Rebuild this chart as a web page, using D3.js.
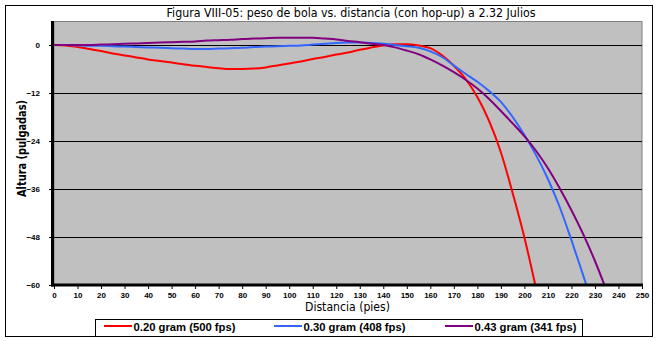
<!DOCTYPE html>
<html>
<head>
<meta charset="utf-8">
<script src="https://cdn.jsdelivr.net/npm/d3@7/dist/d3.min.js"></script>
<style>
  html, body { margin: 0; padding: 0; background: #fff; }
  svg { display: block; }
</style>
</head>
<body>
<svg id="chart" width="658" height="341"></svg>
<script>
const distances = [0,5,10,15,20,25,30,35,40,45,50,55,60,65,70,75,80,85,90,95,100,105,110,115,120,125,130,135,140,145,150,155,160,165,170,175,180,185,190,195,200,205,210,215,220,225,230,235];
const red020 = [0,-0.1,-0.5,-1.0,-1.5,-2.1,-2.6,-3.1,-3.6,-4.0,-4.4,-4.8,-5.2,-5.5,-5.8,-6.0,-6.0,-5.9,-5.6,-5.1,-4.6,-4.1,-3.5,-3.0,-2.4,-1.9,-1.2,-0.6,-0.1,0.2,0.2,-0.1,-0.8,-2.6,-5.2,-8.5,-13.0,-19.0,-26.8,-37.0,-48.1,-61.0];
const blue030 = [0,0,-0.1,-0.2,-0.2,-0.3,-0.4,-0.5,-0.6,-0.7,-0.8,-0.9,-1.0,-1.0,-0.9,-0.8,-0.7,-0.5,-0.4,-0.3,-0.2,-0.1,0.1,0.3,0.5,0.6,0.6,0.5,0.3,0.0,-0.3,-0.7,-1.6,-3.0,-5.1,-7.2,-9.2,-11.5,-14.2,-18.0,-22.5,-27.6,-33.5,-40.5,-48.8,-57.6,-66.5];
const purple043 = [0,0,0,0,0.1,0.2,0.3,0.4,0.5,0.6,0.7,0.8,0.9,1.1,1.2,1.3,1.5,1.6,1.7,1.8,1.8,1.8,1.8,1.6,1.4,1.0,0.7,0.3,0.0,-0.6,-1.4,-2.3,-3.6,-5.1,-6.8,-8.7,-10.9,-13.5,-16.5,-19.6,-22.8,-26.5,-30.8,-35.8,-41.3,-47.3,-54.0,-61.5];
const seriesNames = ["0.20 gram (500 fps)", "0.30 gram (408 fps)", "0.43 gram (341 fps)"];
const seriesColors = ["#ff0000", "#3366ff", "#800080"];
const xTicks = [0,10,20,30,40,50,60,70,80,90,100,110,120,130,140,150,160,170,180,190,200,210,220,230,240,250];
const yTicks = [0,-12,-24,-36,-48,-60];
const titleText = "Figura VIII-05: peso de bola vs. distancia (con hop-up) a 2.32 Julios";
const xTitle = "Distancia (pies)";
const yTitle = "Altura (pulgadas)";

const svg = d3.select("#chart");
const L = 54, R = 642, T = 21, B = 285;
const x = d3.scaleLinear().domain([0, 250]).range([L, R]);
const y = d3.scaleLinear().domain([-60, 6]).range([B, T]);

svg.append("rect").attr("x", 5.5).attr("y", 5.5).attr("width", 647).attr("height", 331)
  .attr("fill", "#fff").attr("stroke", "#000").attr("stroke-width", 1);

svg.append("rect").attr("x", L).attr("y", T + 0.5).attr("width", R - L).attr("height", B - T)
  .attr("fill", "#c0c0c0").attr("stroke", "#808080").attr("stroke-width", 1);

svg.append("g").selectAll("line").data(yTicks.filter(d => d > -60)).join("line")
  .attr("x1", L).attr("x2", R)
  .attr("y1", d => Math.round(y(d)) + 0.5).attr("y2", d => Math.round(y(d)) + 0.5)
  .attr("stroke", "#000").attr("stroke-width", 1);

svg.append("clipPath").attr("id", "clip").append("rect")
  .attr("x", L).attr("y", T).attr("width", R - L).attr("height", B - T);

const line = d3.line().x(d => x(d[0])).y(d => y(d[1])).curve(d3.curveMonotoneX);
const allSeries = [red020, blue030, purple043];
const g = svg.append("g").attr("clip-path", "url(#clip)");
allSeries.forEach((vals, i) => {
  const pts = vals.map((v, j) => [distances[j], v]);
  g.append("path").datum(pts).attr("d", line)
    .attr("fill", "none").attr("stroke", seriesColors[i]).attr("stroke-width", 2)
    .attr("stroke-linejoin", "round");
});

const xAxis = d3.axisBottom(x).tickValues(xTicks).tickSize(4).tickPadding(3).tickFormat(d3.format("d"));
const gx = svg.append("g").attr("transform", `translate(0,${B})`).call(xAxis);
gx.select(".domain").remove();
gx.selectAll("line").attr("stroke", "#000");
gx.selectAll("text").attr("font-family", "'Liberation Sans', Arial, sans-serif")
  .attr("font-size", "8px").attr("font-weight", "bold").attr("fill", "#000");

const yAxis = d3.axisLeft(y).tickValues(yTicks).tickSize(5).tickPadding(9).tickFormat(d3.format("d"));
const gy = svg.append("g").attr("transform", `translate(${L},0)`).call(yAxis);
gy.select(".domain").remove();
gy.selectAll("line").attr("stroke", "#000");
gy.selectAll("text").attr("font-family", "'Liberation Sans', Arial, sans-serif")
  .attr("font-size", "8px").attr("font-weight", "bold").attr("fill", "#000");

svg.append("line").attr("x1", L - 1.5).attr("x2", L - 1.5).attr("y1", T).attr("y2", B + 1.5)
  .attr("stroke", "#000").attr("stroke-width", 3);
svg.append("line").attr("x1", L - 3).attr("x2", R + 1).attr("y1", B).attr("y2", B)
  .attr("stroke", "#000").attr("stroke-width", 3);

svg.append("text").attr("x", 351).attr("y", 17).attr("text-anchor", "middle")
  .attr("font-family", "'DejaVu Sans', Verdana, sans-serif").attr("font-size", "12px")
  .attr("textLength", 369).attr("lengthAdjust", "spacingAndGlyphs")
  .text(titleText);

svg.append("text").attr("x", 347.5).attr("y", 311).attr("text-anchor", "middle")
  .attr("font-family", "'DejaVu Sans', Verdana, sans-serif").attr("font-size", "12px")
  .attr("textLength", 85).attr("lengthAdjust", "spacingAndGlyphs")
  .text(xTitle);

svg.append("text").attr("transform", "translate(25.5,148.5) rotate(-90)").attr("text-anchor", "middle")
  .attr("font-family", "'DejaVu Sans', Verdana, sans-serif").attr("font-size", "12px")
  .attr("font-weight", "bold")
  .attr("textLength", 97).attr("lengthAdjust", "spacingAndGlyphs")
  .text(yTitle);

svg.append("rect").attr("x", 95.5).attr("y", 319.5).attr("width", 487).attr("height", 17)
  .attr("fill", "#fff").attr("stroke", "#000").attr("stroke-width", 1);
const legX = [104, 274, 445];
const legTextLen = [102, 102, 102];
seriesNames.forEach((name, i) => {
  svg.append("line").attr("x1", legX[i]).attr("x2", legX[i] + 28).attr("y1", 326).attr("y2", 326)
    .attr("stroke", seriesColors[i]).attr("stroke-width", 2);
  svg.append("text").attr("x", legX[i] + 29.5).attr("y", 330.5)
    .attr("font-family", "'Liberation Sans', Arial, sans-serif").attr("font-size", "10.5px")
    .attr("font-weight", "bold")
    .attr("textLength", legTextLen[i]).attr("lengthAdjust", "spacingAndGlyphs")
    .text(name);
});
</script>
</body>
</html>
